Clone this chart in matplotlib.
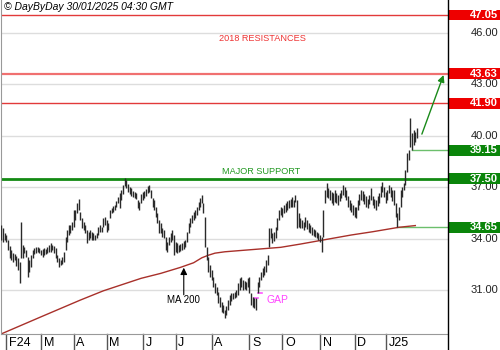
import matplotlib
matplotlib.use('Agg')
import matplotlib.pyplot as plt
import matplotlib.transforms as mtransforms
from matplotlib.patches import Rectangle
from matplotlib.lines import Line2D

# daily bars, one per trading day (late Jan 2024 -> 30 Jan 2025)
bar_high = [34.79, 34.62, 34.33, 34.21, 33.92, 33.57, 33.33, 33.16, 33.10, 32.98,
            32.87, 32.63, 34.97, 33.62, 33.51, 33.33, 32.92, 32.75, 33.04, 33.33,
            33.45, 33.51, 33.51, 33.45, 33.33, 33.39, 33.45, 33.39, 33.51, 33.62,
            33.74, 33.62, 33.57, 33.45, 33.04, 32.87, 32.75, 32.92, 33.22, 34.09,
            34.50, 34.79, 34.79, 34.97, 35.67, 35.67, 36.08, 36.31, 35.55, 35.20,
            34.97, 34.79, 34.50, 34.38, 34.50, 34.38, 34.33, 34.21, 34.33, 34.67,
            34.79, 34.67, 35.20, 35.26, 35.08, 34.91, 35.67, 35.78, 35.90, 35.96,
            36.19, 36.43, 36.66, 36.83, 37.13, 37.53, 37.42, 37.18, 37.01, 36.95,
            36.78, 36.72, 36.66, 36.25, 36.13, 36.60, 36.72, 36.78, 36.89, 37.07,
            37.13, 36.83, 36.37, 36.25, 35.84, 35.49, 35.08, 34.91, 34.62, 34.50,
            34.09, 33.80, 34.09, 34.33, 34.50, 34.21, 33.80, 33.74, 33.62, 33.68,
            33.74, 33.86, 33.92, 34.38, 34.91, 35.20, 35.38, 35.55, 35.67, 35.84,
            36.13, 36.37, 36.54, 36.08, 35.26, 33.51, 32.92, 32.46, 32.16, 31.76,
            31.41, 31.17, 30.88, 30.59, 30.30, 30.12, 29.83, 30.06, 30.41, 30.71,
            30.82, 30.82, 30.88, 31.00, 31.41, 31.70, 31.76, 31.58, 31.53, 31.47,
            31.70, 31.76, 30.82, 30.59, 30.53, 30.51, 31.47, 31.76, 32.05, 32.28,
            32.40, 32.75, 33.04, 34.62, 34.62, 34.33, 34.38, 34.67, 35.20, 35.67,
            35.84, 35.78, 35.96, 36.08, 36.19, 36.25, 36.31, 36.43, 36.25, 36.54,
            36.25, 35.49, 35.20, 35.08, 34.97, 35.26, 35.08, 34.91, 34.79, 34.67,
            34.56, 34.50, 34.38, 34.33, 34.21, 34.09, 35.67, 36.83, 37.24, 36.95,
            36.83, 36.72, 36.66, 36.83, 36.66, 36.54, 36.66, 36.83, 37.13, 37.01,
            36.83, 36.48, 36.25, 36.08, 35.96, 35.84, 35.84, 36.25, 36.60, 36.83,
            36.78, 36.60, 36.48, 36.31, 36.54, 36.95, 36.48, 36.31, 36.25, 36.48,
            36.66, 37.07, 37.30, 37.01, 36.72, 36.83, 37.13, 37.01, 36.83, 36.83,
            36.08, 35.49, 35.84, 36.83, 37.01, 37.24, 38.00, 38.99, 39.17, 41.04,
            40.16, 40.34, 40.22, 40.46]
bar_low = [33.92, 33.80, 33.92, 33.80, 33.33, 32.87, 32.75, 32.63, 32.75, 32.40,
           32.16, 31.41, 32.87, 32.87, 33.16, 32.92, 31.76, 32.05, 32.34, 32.87,
           33.10, 33.16, 33.22, 33.16, 33.04, 32.92, 33.04, 33.10, 33.16, 33.22,
           33.22, 33.33, 33.16, 32.87, 32.63, 32.34, 32.46, 32.51, 32.63, 33.33,
           33.80, 34.21, 34.33, 34.50, 34.67, 35.08, 35.49, 35.67, 35.08, 34.62,
           34.50, 34.33, 33.74, 33.92, 34.03, 33.92, 33.92, 33.92, 34.03, 34.21,
           34.38, 34.38, 34.67, 34.79, 34.38, 34.50, 35.20, 35.49, 35.55, 35.67,
           35.84, 36.08, 35.78, 36.25, 36.60, 37.07, 36.95, 36.72, 36.60, 36.48,
           36.43, 36.37, 36.31, 35.78, 35.67, 36.08, 36.25, 36.37, 36.48, 36.66,
           36.72, 36.37, 35.84, 35.67, 35.26, 34.91, 34.33, 34.33, 34.09, 34.03,
           33.33, 33.22, 33.62, 33.80, 33.92, 33.04, 33.22, 33.16, 33.22, 33.28,
           33.33, 33.39, 33.51, 33.80, 34.33, 34.67, 34.91, 35.08, 35.20, 35.38,
           35.67, 35.84, 36.08, 35.49, 33.51, 32.75, 32.05, 31.76, 31.58, 31.17,
           30.82, 30.71, 30.24, 30.00, 29.71, 29.65, 29.36, 29.54, 29.83, 30.12,
           30.35, 30.47, 30.53, 30.59, 30.71, 31.00, 31.17, 31.00, 31.05, 31.00,
           31.17, 30.82, 30.12, 30.00, 29.94, 29.83, 30.85, 31.17, 31.58, 31.76,
           31.88, 32.05, 32.46, 33.51, 34.03, 33.74, 33.86, 34.03, 34.50, 35.08,
           35.38, 35.26, 35.49, 35.55, 35.67, 35.78, 35.84, 35.84, 35.84, 36.13,
           34.62, 34.67, 34.62, 34.62, 34.50, 34.67, 34.56, 34.38, 34.33, 34.21,
           34.15, 34.09, 34.03, 33.92, 33.80, 33.22, 34.09, 36.08, 36.43, 36.37,
           36.25, 36.08, 35.96, 36.13, 36.08, 35.96, 36.19, 36.37, 36.54, 36.43,
           36.25, 35.84, 35.67, 35.55, 35.38, 35.26, 35.20, 35.67, 35.96, 36.25,
           36.19, 36.02, 35.84, 35.78, 36.02, 36.25, 35.96, 35.78, 35.67, 35.90,
           36.08, 36.43, 36.72, 36.43, 36.08, 36.25, 36.66, 36.43, 36.19, 35.96,
           35.26, 34.65, 35.08, 35.84, 36.43, 36.83, 37.13, 37.88, 38.58, 39.35,
           39.15, 39.46, 39.64, 39.87]

# 200 day moving average, read at a few bars
ma_idx = [-1, 24, 48, 62, 85, 97, 109, 117, 122, 126, 130, 136, 149, 170, 182, 196, 213, 226, 242, 252]
ma_val = [28.40, 29.43, 30.41, 30.95, 31.68, 31.97, 32.32, 32.59, 32.88, 33.03, 33.15, 33.23, 33.33,
          33.49, 33.68, 33.92, 34.21, 34.40, 34.66, 34.76]

month_labels = ['F24', 'M', 'A', 'M', 'J', 'J', 'A', 'S', 'O', 'N', 'D', 'J25']
month_start = [3, 24, 44, 64, 86, 106, 128, 151, 171, 194, 215, 234]

grid_levels = [31, 34, 37, 40, 43, 46]
resist_levels = [47.05, 43.63, 41.90]
support_levels = [39.15, 37.50, 34.65]
support_from = [250, None, 241]
gap_low, gap_high = 30.51, 30.84
target = 43.63

plt.rcParams['font.family'] = ['Liberation Sans', 'DejaVu Sans']

fig = plt.figure(figsize=(5, 3.5), dpi=100)
ax = fig.add_axes([1 / 500, 16 / 350, 446.5 / 500, 334 / 350])
ax.set_xlim(-0.3, 271.6)
ax.set_ylim(28.43, 47.93)
ax.set_xticks([])
ax.set_yticks([])
for s in ['top', 'right']:
    ax.spines[s].set_visible(False)
ax.spines['left'].set_color('#999999')
ax.spines['bottom'].set_color('#999999')

for g in grid_levels:
    ax.axhline(g, color='#dddddd', lw=1, zorder=0)

ax.axhline(resist_levels[0], color='#e23a3a', lw=1)
ax.axhline(resist_levels[1], color='#f07070', lw=1.6)
ax.axhline(resist_levels[2], color='#e23a3a', lw=1)
ax.axhline(support_levels[1], color='#138a13', lw=2)
for lev, start in zip(support_levels, support_from):
    if start is not None:
        ax.plot([start, 271.6], [lev, lev], color='#6cbf6c', lw=1)

x = list(range(len(bar_high)))
ax.vlines(x, bar_low, bar_high, colors='#2a2a2a', lw=1.0, zorder=3)
ax.plot(ma_idx, ma_val, color='#a8302a', lw=1, zorder=2)

# annotations
ax.text(158.9, 45.71, '2018 RESISTANCES', color='#ee3333', fontsize=6.6, ha='center', va='center')
ax.text(158.3, 37.89, 'MAJOR SUPPORT', color='#229922', fontsize=6.6, ha='center', va='center')
ax.annotate('', xy=(111, 32.30), xytext=(111, 30.72),
            arrowprops=dict(arrowstyle='-|>', color='black', lw=0.8, mutation_scale=10,
                            shrinkA=0, shrinkB=0))
ax.text(111, 30.41, 'MA 200', fontsize=7, ha='center', va='center')
ax.plot([153.5, 156.5], [gap_low, gap_low], color='#ff55ff', lw=1.2)
ax.plot([155.9, 158.9], [gap_high, gap_high], color='#ff55ff', lw=1.2)
ax.text(161.2, 30.41, 'GAP', color='#ff44ff', fontsize=7.5, ha='left', va='center')
ax.annotate('', xy=(269.2, target - 0.08), xytext=(len(bar_high) + 2, 40.1),
            arrowprops=dict(arrowstyle='-|>', color='#1a8a1a', lw=1, mutation_scale=10,
                            shrinkA=0, shrinkB=0))

# right price scale
trans = mtransforms.blended_transform_factory(ax.transAxes, ax.transData)
for g in grid_levels:
    ax.text(1.113, g, '%.2f' % g, transform=trans, ha='right', va='center',
            fontsize=8, color='#222222', clip_on=False, zorder=5)
for levs, col in [(resist_levels, '#ee0000'), (support_levels, '#0a850a')]:
    for lev in levs:
        ax.add_patch(Rectangle((1.0, lev - 0.31), 0.118, 0.62, transform=trans,
                               facecolor=col, edgecolor='none', clip_on=False, zorder=6))
        ax.text(1.113, lev, '%.2f' % lev, transform=trans, ha='right', va='center',
                fontsize=8, fontweight='bold', color='white', clip_on=False, zorder=7)

# month axis below
tx = mtransforms.blended_transform_factory(ax.transData, ax.transAxes)
for lab, idx in zip(month_labels, month_start):
    ax.plot([idx, idx], [0, -16 / 334], transform=tx, color='#555555', lw=1, clip_on=False)
    ax.text(idx + 1.6, -8.5 / 334, lab, transform=tx, fontsize=9, ha='left', va='center',
            clip_on=False)

fig.add_artist(Line2D([447.5 / 500, 447.5 / 500], [0, 1], color='black', lw=1))
fig.text(4 / 500, 1 - 7 / 350, '\u00a9 DayByDay 30/01/2025 04:30 GMT', fontsize=7.5,
         style='italic', va='center', ha='left')

fig.savefig('out.png', dpi=100)
